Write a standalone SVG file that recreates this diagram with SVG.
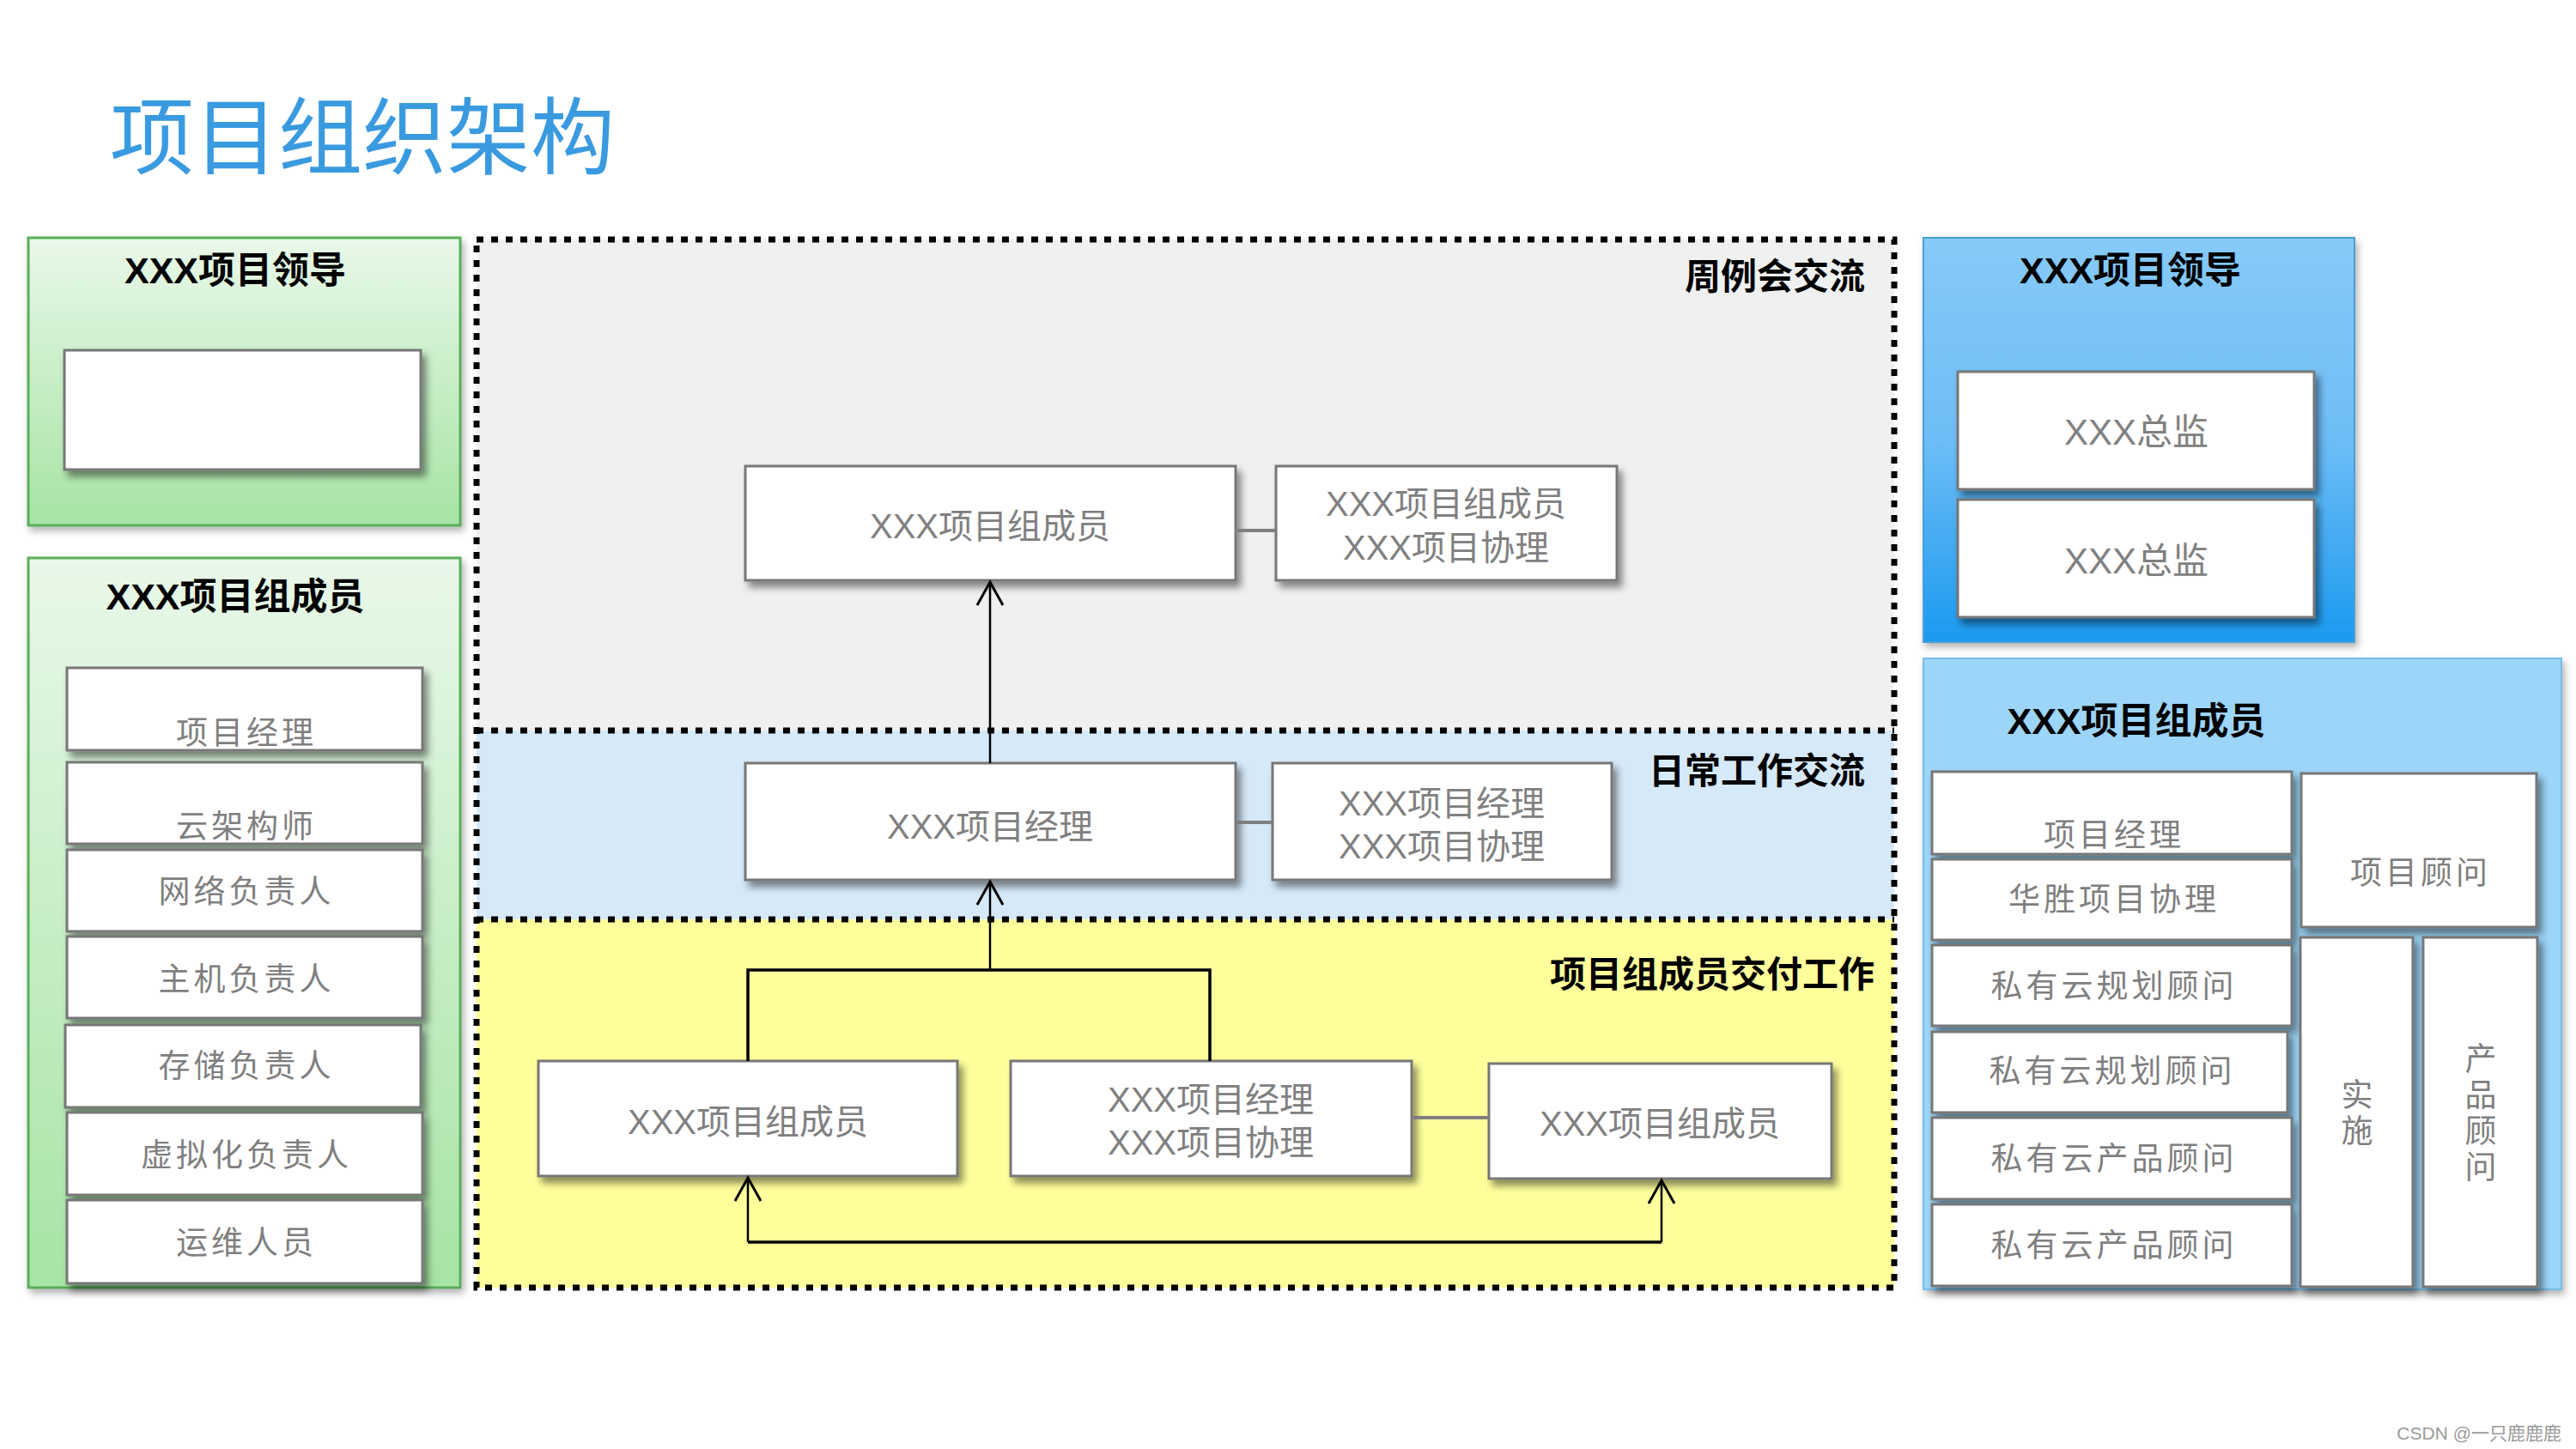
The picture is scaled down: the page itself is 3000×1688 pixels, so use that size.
<svg xmlns="http://www.w3.org/2000/svg" width="3000" height="1688" viewBox="0 0 3000 1688">
<defs>
  <linearGradient id="gGreen" x1="0" y1="0" x2="0" y2="1">
    <stop offset="0" stop-color="#e9f8e9"/>
    <stop offset="1" stop-color="#a6e4a4"/>
  </linearGradient>
  <linearGradient id="gBlue" x1="0" y1="0" x2="0" y2="1">
    <stop offset="0" stop-color="#86caf8"/>
    <stop offset="0.5" stop-color="#6ebdf6"/>
    <stop offset="1" stop-color="#1b9af0"/>
  </linearGradient>
  <filter id="sh" x="-10%" y="-10%" width="130%" height="150%">
    <feDropShadow dx="5" dy="7" stdDeviation="4" flood-color="#000" flood-opacity="0.45"/>
  </filter>
  <filter id="shP" x="-5%" y="-5%" width="115%" height="115%">
    <feDropShadow dx="3" dy="5" stdDeviation="4" flood-color="#000" flood-opacity="0.3"/>
  </filter>
  <marker id="arr" markerUnits="userSpaceOnUse" markerWidth="34" markerHeight="34" refX="28" refY="16" orient="auto">
    <path d="M1,1 L28,16 L1,31" fill="none" stroke="#000" stroke-width="3"/>
  </marker>
</defs>
<style>
  .title{font-family:"Noto Sans CJK SC",sans-serif;font-size:98px;fill:#3a9ae0}
  .node{fill:#fff;stroke:#777;stroke-width:3;filter:url(#sh)}
  .t{font-family:"Liberation Sans","Noto Sans CJK SC",sans-serif;font-size:40px;fill:#808080;text-anchor:middle}
  .li{font-family:"Noto Sans CJK SC",sans-serif;font-size:37px;fill:#7f7f7f;text-anchor:middle;letter-spacing:4px}
  .vt{font-family:"Noto Sans CJK SC",sans-serif;font-size:37px;fill:#7f7f7f;text-anchor:middle;writing-mode:vertical-rl;letter-spacing:5px}
  .ph{font-family:"Liberation Sans","Noto Sans CJK SC",sans-serif;font-weight:bold;font-size:43px;fill:#000;text-anchor:middle}
  .lab{font-family:"Noto Sans CJK SC",sans-serif;font-weight:bold;font-size:42px;fill:#000;text-anchor:end}
  .sec{fill:none;stroke:#000;stroke-width:7;stroke-dasharray:8 9}
  .link{stroke:#7f7f7f;stroke-width:4;fill:none}
  .arrow{stroke:#000;stroke-width:2.5;fill:none;marker-end:url(#arr)}
  .brk{stroke:#000;stroke-width:3.5;fill:none}
  .wm{font-family:"Liberation Sans","Noto Sans CJK SC",sans-serif;font-size:21px;fill:#999;text-anchor:end}
</style>
<rect width="3000" height="1688" fill="#fff"/>
<text class="title" x="128" y="195">项目组织架构</text>

<!-- central sections -->
<g id="sections">
  <rect x="555" y="279" width="1651" height="572" fill="#eff0f0"/>
  <rect x="555" y="851" width="1651" height="220" fill="#d6e9f8"/>
  <rect x="555" y="1071" width="1651" height="429" fill="#ffff9c"/>
  <rect class="sec" x="555" y="279" width="1651" height="1221"/>
  <path class="sec" d="M555,851 H2206"/>
  <path class="sec" d="M555,1071 H2206"/>
  <text class="lab" x="2172" y="337">周例会交流</text>
  <text class="lab" x="2172" y="913">日常工作交流</text>
  <text class="lab" x="2183" y="1150">项目组成员交付工作</text>
</g>

<!-- left panels -->
<g id="left-leader">
  <rect x="33" y="277" width="503" height="335" fill="url(#gGreen)" stroke="#5aae5a" stroke-width="3" filter="url(#shP)"/>
  <text class="ph" x="274" y="330">XXX项目领导</text>
  <rect class="node" x="75" y="408" width="415" height="139"/>
</g>
<g id="left-members">
  <rect x="33" y="650" width="503" height="850" fill="url(#gGreen)" stroke="#5aae5a" stroke-width="3" filter="url(#shP)"/>
  <text class="ph" x="274" y="710">XXX项目组成员</text>
  <g id="lm1"><rect class="node" x="78" y="778" width="414" height="96"/><text class="li" x="287" y="867">项目经理</text></g>
  <g id="lm2"><rect class="node" x="78" y="888" width="414" height="95"/><text class="li" x="287" y="976">云架构师</text></g>
  <g id="lm3"><rect class="node" x="78" y="990" width="414" height="95"/><text class="li" x="287" y="1052">网络负责人</text></g>
  <g id="lm4"><rect class="node" x="78" y="1091" width="414" height="95"/><text class="li" x="287" y="1154">主机负责人</text></g>
  <g id="lm5"><rect class="node" x="76" y="1194" width="414" height="96"/><text class="li" x="287" y="1255">存储负责人</text></g>
  <g id="lm6"><rect class="node" x="78" y="1296" width="414" height="96"/><text class="li" x="287" y="1359">虚拟化负责人</text></g>
  <g id="lm7"><rect class="node" x="78" y="1398" width="414" height="97"/><text class="li" x="287" y="1461">运维人员</text></g>
</g>

<!-- central nodes -->
<g id="n-top-member"><rect class="node" x="868" y="543" width="571" height="133"/><text class="t" x="1153" y="627">XXX项目组成员</text></g>
<g id="n-top-side"><rect class="node" x="1486" y="543" width="397" height="133"/><text class="t" x="1684" y="601">XXX项目组成员</text><text class="t" x="1684" y="652">XXX项目协理</text></g>
<g id="n-pm"><rect class="node" x="868" y="889" width="571" height="136"/><text class="t" x="1153" y="977">XXX项目经理</text></g>
<g id="n-pm-side"><rect class="node" x="1482" y="889" width="395" height="136"/><text class="t" x="1679" y="950">XXX项目经理</text><text class="t" x="1679" y="1000">XXX项目协理</text></g>
<g id="n-a"><rect class="node" x="627" y="1236" width="488" height="134"/><text class="t" x="871" y="1321">XXX项目组成员</text></g>
<g id="n-b"><rect class="node" x="1177" y="1236" width="467" height="134"/><text class="t" x="1410" y="1295">XXX项目经理</text><text class="t" x="1410" y="1345">XXX项目协理</text></g>
<g id="n-c"><rect class="node" x="1734" y="1239" width="399" height="134"/><text class="t" x="1933" y="1323">XXX项目组成员</text></g>

<!-- connectors -->
<g id="connectors">
  <path class="link" d="M1439,618 H1486"/>
  <path class="link" d="M1439,958 H1482"/>
  <path class="link" d="M1644,1302 H1734"/>
  <path class="arrow" d="M1153,889 V678"/>
  <path class="arrow" d="M1153,1130 V1027"/>
  <path class="brk" d="M871,1236 V1130 H1409 V1236"/>
  <path class="brk" d="M871,1447 H1935"/>
  <path class="arrow" d="M871,1447 V1372"/>
  <path class="arrow" d="M1935,1447 V1375"/>
</g>

<!-- right panels -->
<g id="right-leader">
  <rect x="2240" y="277" width="502" height="471" fill="url(#gBlue)" stroke="#4a9fd8" stroke-width="2" filter="url(#shP)"/>
  <text class="ph" x="2481" y="330">XXX项目领导</text>
  <g id="rl1"><rect class="node" x="2280" y="433" width="415" height="137"/><text class="t" x="2488" y="518" style="font-size:42px">XXX总监</text></g>
  <g id="rl2"><rect class="node" x="2280" y="582" width="415" height="137"/><text class="t" x="2488" y="668" style="font-size:42px">XXX总监</text></g>
</g>
<g id="right-members">
  <rect x="2240" y="767" width="743" height="735" fill="#9dd5f8" stroke="#74bbea" stroke-width="2" filter="url(#shP)"/>
  <text class="ph" x="2488" y="855">XXX项目组成员</text>
  <g id="rm1"><rect class="node" x="2250" y="899" width="419" height="96"/><text class="li" x="2462" y="986">项目经理</text></g>
  <g id="rm2"><rect class="node" x="2250" y="1001" width="419" height="94"/><text class="li" x="2462" y="1061">华胜项目协理</text></g>
  <g id="rm3"><rect class="node" x="2250" y="1101" width="419" height="94"/><text class="li" x="2462" y="1162">私有云规划顾问</text></g>
  <g id="rm4"><rect class="node" x="2250" y="1202" width="414" height="94"/><text class="li" x="2460" y="1261">私有云规划顾问</text></g>
  <g id="rm5"><rect class="node" x="2250" y="1302" width="419" height="95"/><text class="li" x="2462" y="1363">私有云产品顾问</text></g>
  <g id="rm6"><rect class="node" x="2250" y="1403" width="419" height="95"/><text class="li" x="2462" y="1464">私有云产品顾问</text></g>
  <g id="rm7"><rect class="node" x="2680" y="901" width="274" height="179"/><text class="li" x="2819" y="1030">项目顾问</text></g>
  <g id="rm8"><rect class="node" x="2679" y="1092" width="131" height="407"/><text class="vt" x="2745" y="1298">实施</text></g>
  <g id="rm9"><rect class="node" x="2822" y="1092" width="133" height="407"/><text class="vt" x="2889" y="1298">产品顾问</text></g>
</g>

<text class="wm" x="2983" y="1677">CSDN @一只鹿鹿鹿</text>
</svg>
